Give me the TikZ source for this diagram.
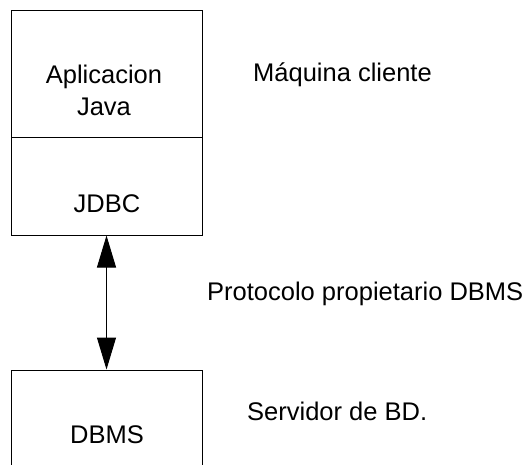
\documentclass[tikz,border=0pt]{standalone}
\usepackage{fontspec}
\setmainfont{Liberation Sans}
\usetikzlibrary{arrows.meta}
\begin{document}
\begin{tikzpicture}[x=1pt,y=-1pt,
  boxshape/.style={draw=black,line width=1pt,rectangle,inner sep=0pt,minimum width=191pt},
  lbl/.style={inner sep=0pt,anchor=base,font=\fontsize{25.5}{32}\selectfont},
  link/.style={line width=1pt,{Triangle[length=32pt,width=19pt]}-{Triangle[length=32pt,width=19pt]}}]
\useasboundingbox (0,0) rectangle (524,464);
\node[boxshape,minimum height=127pt] (appbox) at (106.5,73.5) {};
\node[boxshape,minimum height=98pt] (jdbcbox) at (106.5,186) {};
\node[boxshape,minimum height=120pt] (dbmsbox) at (106.5,430) {};
\node[lbl,align=center] (app) at (104,115) {Aplicacion\\Java};
\node[lbl] (jdbc) at (107,212) {JDBC};
\node[lbl] (dbms) at (107,443) {DBMS};
\node[lbl,anchor=base west] (cliente) at (253,81) {Máquina cliente};
\node[lbl,anchor=base west] (proto) at (207,300) {Protocolo propietario DBMS};
\node[lbl,anchor=base west] (serv) at (247,420) {Servidor de BD.};
\draw[link] (jdbcbox.south) -- (dbmsbox.north);
\end{tikzpicture}
\end{document}
